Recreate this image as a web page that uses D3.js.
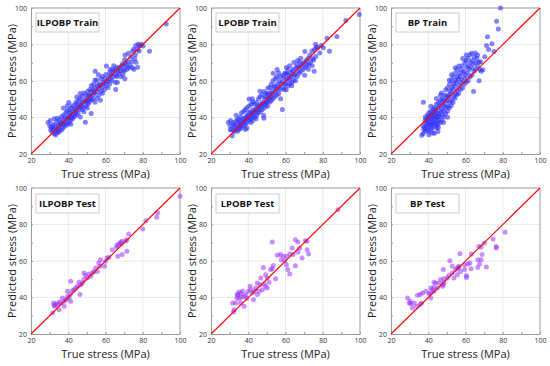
<!DOCTYPE html>
<html>
<head>
<meta charset="utf-8">
<script src="https://cdn.jsdelivr.net/npm/d3@7"></script>
<style>
  body { margin: 0; background: #fff; }
  svg { font-family: "Open Sans", sans-serif; }
</style>
</head>
<body>
<div id="chart"></div>
<script>
// panel titles
var titles = ["ILPOBP Train", "LPOBP Train", "BP Train", "ILPOBP Test", "LPOBP Test", "BP Test"];
var tickVals = [20, 30, 40, 50, 60, 70, 80, 90, 100];
var gridVals = [40, 60, 80];

// [true, predicted] pairs
var ilpobpTrain = [
  [29.2,37.3],[30.1,35.4],[30.6,33.1],[31.3,32.2],[31.0,34.6],[31.8,36.2],[32.4,31.1],[32.1,33.5],[32.7,35.3],[33.2,30.4],[33.6,32.2],[33.1,34.1],[33.8,37.4],[34.5,31.6],[34.2,33.3],[34.7,35.8],[35.3,32.5],[35.1,34.2],[35.6,36.4],[35.2,38.6],[36.4,33.2],[36.1,35.7],[36.6,37.2],[30.3,38.4],[32.5,39.3],[34.1,39.6],
  [37.2,34.3],[37.6,36.5],[37.1,38.2],[37.5,41.3],[38.3,35.4],[38.7,37.1],[38.2,39.5],[38.6,42.4],[39.4,36.2],[39.1,38.7],[39.7,40.3],[39.3,43.5],[40.5,37.3],[40.2,39.6],[40.8,41.2],[40.4,44.3],[41.3,38.5],[41.6,40.2],[41.1,42.6],[41.7,45.2],[42.3,39.3],[42.1,41.5],[42.6,43.1],[42.2,46.4],[37.4,45.2],[39.5,46.4],[40.3,48.2],[36.3,40.4],[41.4,36.3],
  [43.2,40.4],[43.7,42.3],[43.3,44.6],[43.8,47.2],[44.4,41.2],[44.1,43.6],[44.6,45.3],[44.3,48.5],[45.3,42.3],[45.7,44.4],[45.2,46.6],[45.6,49.2],[46.5,40.3],[46.2,45.5],[46.7,47.3],[46.3,50.4],[49.2,37.4],[47.5,44.2],[47.1,46.6],[47.7,48.3],[47.3,51.5],[48.4,43.2],[48.1,45.6],[48.6,49.2],[48.3,53.4],[49.5,46.3],[49.2,48.6],[49.7,50.2],[49.4,52.5],[50.3,45.2],[50.6,47.5],[50.2,49.3],[50.8,51.6],[50.4,54.2],[44.6,51.3],[46.4,53.2],
  [51.2,48.4],[51.7,50.2],[51.3,52.5],[51.6,55.3],[52.3,42.2],[52.5,49.4],[52.1,51.6],[52.7,54.2],[52.4,57.5],[53.3,50.3],[53.6,52.6],[53.2,55.4],[53.7,58.2],[54.4,48.3],[54.1,53.5],[54.6,56.2],[54.3,60.4],[55.5,50.6],[55.2,54.2],[55.7,57.4],[55.3,60.6],[56.4,52.2],[56.1,55.6],[56.6,58.3],[57.3,49.5],[57.6,54.2],[57.2,57.5],[57.7,61.2],[58.4,53.3],[58.1,56.5],[58.6,59.2],[58.3,62.5],[54.5,65.3],[56.2,63.4],
  [59.4,55.2],[59.1,58.5],[59.7,61.3],[60.3,57.4],[60.6,60.2],[60.2,63.5],[60.5,68.2],[61.4,56.3],[61.1,59.6],[61.7,62.2],[62.3,58.5],[62.6,61.2],[62.2,64.6],[63.4,60.3],[63.1,63.5],[63.7,66.2],[64.3,62.4],[64.6,65.3],[65.5,55.4],[65.2,59.3],[65.7,63.2],[65.3,66.5],[66.4,59.2],[66.1,62.5],[66.6,65.3],[66.3,67.6],[64.4,68.3],[62.5,66.4],
  [67.3,64.4],[67.6,67.2],[68.4,62.3],[68.1,65.6],[68.6,68.2],[69.3,63.4],[69.7,66.2],[69.2,69.5],[70.4,61.3],[70.1,65.4],[70.6,68.3],[70.3,71.6],[71.5,66.4],[71.2,69.3],[72.4,67.2],[72.1,70.5],[73.3,68.4],[73.6,73.2],[74.4,67.3],[74.1,70.6],[74.6,76.3],[75.3,66.4],[75.6,72.2],[75.2,77.5],[76.4,70.3],[76.1,74.4],[72.3,75.2],[70.5,74.3],
  [76.3,79.4],[77.2,77.3],[77.6,80.2],[78.4,79.3],[78.1,76.4],[79.3,80.1],[80.2,79.2],[77.3,67.5],[83.6,76.3],[92.6,91.3]
];
var lpobpTrain = [
  [29.3,37.2],[30.2,35.5],[30.5,38.3],[31.4,29.8],[31.1,33.4],[31.7,36.3],[32.3,32.2],[32.6,34.6],[32.2,37.3],[33.4,33.2],[33.1,35.4],[33.7,38.5],[34.3,32.4],[34.6,34.2],[34.1,36.6],[34.5,39.2],[35.3,33.5],[35.6,35.2],[35.2,37.4],[35.7,40.3],[36.4,34.3],[36.1,36.6],[36.6,38.2],[36.3,42.4],[30.4,33.3],[33.5,41.2],
  [37.3,35.4],[37.6,37.2],[37.2,39.5],[37.5,43.3],[38.4,36.2],[38.1,38.4],[38.7,40.3],[38.3,44.2],[39.4,37.3],[39.1,39.6],[39.6,41.2],[39.2,45.4],[40.3,38.5],[40.6,40.2],[40.2,42.6],[40.5,46.3],[40.4,50.2],[41.5,37.3],[41.2,39.4],[41.7,41.6],[41.3,43.2],[41.6,47.4],[42.3,38.4],[42.6,40.3],[42.1,42.5],[42.7,44.2],[42.4,48.5],[42.2,50.3],[38.5,33.4],[39.3,34.2],
  [43.4,40.2],[43.1,42.5],[43.7,44.3],[43.3,47.4],[44.5,41.3],[44.2,43.4],[44.7,45.6],[44.4,48.2],[45.3,42.5],[45.6,44.2],[45.2,46.4],[45.5,50.3],[46.4,43.2],[46.1,45.5],[46.7,47.3],[46.3,51.4],[48.4,39.6],[47.4,44.3],[47.1,46.5],[47.6,48.2],[47.3,52.4],[48.2,41.3],[48.6,45.2],[48.3,47.5],[48.7,50.3],[48.4,54.2],[49.3,46.6],[49.6,48.2],[49.2,51.4],[49.7,53.3],[50.4,46.2],[50.1,48.5],[50.6,50.3],[50.3,52.6],[50.5,56.2],[46.3,54.4],[44.2,39.3],
  [51.3,48.3],[51.6,50.5],[51.2,53.2],[51.7,56.4],[52.4,49.2],[52.1,51.5],[52.6,54.3],[52.3,58.2],[53.4,50.4],[53.1,53.2],[53.7,56.5],[53.3,60.2],[54.3,51.5],[54.6,54.3],[54.2,57.2],[54.5,61.4],[55.4,52.3],[55.1,55.6],[55.7,58.2],[55.3,62.3],[56.4,53.2],[56.2,56.5],[56.6,60.2],[56.3,64.4],[57.4,50.3],[57.1,55.4],[57.6,58.3],[57.3,62.5],[58.3,44.4],[58.6,56.2],[58.2,59.4],[58.7,63.2],[55.5,66.3],[53.4,64.2],
  [59.3,55.4],[59.6,58.2],[59.2,61.5],[59.7,64.3],[60.4,55.2],[60.1,58.6],[60.6,61.3],[60.3,64.2],[60.5,67.4],[61.3,57.2],[61.6,60.4],[61.2,63.5],[62.4,58.3],[62.1,61.6],[62.7,64.2],[62.3,68.3],[63.4,59.2],[63.1,62.5],[63.6,65.3],[64.3,60.4],[64.6,63.2],[64.2,66.5],[64.5,70.2],[65.4,60.2],[65.1,63.6],[65.7,67.3],[66.3,62.4],[66.6,65.2],[66.2,68.5],[66.5,71.3],[63.3,57.4],[61.4,66.3],
  [67.4,64.2],[67.1,67.5],[67.6,70.3],[68.3,65.4],[68.6,68.2],[68.2,72.4],[69.4,66.3],[69.1,69.5],[70.3,63.2],[70.6,67.4],[70.2,70.2],[71.4,68.5],[71.1,71.3],[72.3,66.4],[72.6,69.2],[72.2,72.5],[73.4,70.3],[73.1,74.2],[74.3,68.4],[74.6,72.2],[74.2,76.4],[75.4,65.3],[75.1,71.5],[75.6,77.2],[76.3,73.4],[76.5,78.3],[70.4,76.2],
  [76.2,80.2],[77.3,78.4],[78.4,75.3],[79.2,79.4],[80.3,78.2],[82.3,83.4],[83.6,76.3],[87.6,84.4],[92.4,93.2],[99.6,96.4]
];
var bpTrain = [
  [37.3,31.2],[37.6,33.5],[37.2,35.3],[38.4,32.4],[38.1,34.2],[38.6,36.6],[38.3,38.3],[39.4,33.2],[39.1,35.5],[39.7,37.2],[39.3,39.4],[39.6,41.3],[40.4,32.3],[40.1,34.6],[40.6,36.2],[40.2,38.5],[40.7,40.3],[40.3,42.4],[41.5,33.3],[41.2,35.6],[41.7,37.3],[41.3,39.5],[41.6,41.2],[41.2,43.4],[42.4,31.5],[42.1,34.3],[42.6,36.4],[42.2,38.2],[42.7,40.5],[42.3,42.3],[42.6,44.4],[37.4,48.3],[36.5,30.3],[40.4,30.5],[43.3,31.4],[45.2,32.3],[38.4,40.3],[41.4,46.2],
  [43.3,35.4],[43.6,37.2],[43.2,39.5],[43.7,41.3],[43.4,43.2],[43.1,45.5],[44.5,34.3],[44.2,36.5],[44.6,38.3],[44.3,40.2],[44.7,42.5],[44.1,44.3],[44.4,47.3],[45.3,36.2],[45.6,38.5],[45.2,40.4],[45.7,42.2],[45.3,45.4],[45.5,48.2],[46.4,37.3],[46.1,40.5],[46.6,43.2],[46.2,46.4],[46.5,49.3],[47.3,38.4],[47.6,41.2],[47.2,44.5],[47.7,47.3],[47.4,50.2],[47.1,53.4],[48.4,40.3],[48.1,43.5],[48.6,46.2],[48.3,49.4],[48.7,52.3],[49.3,42.2],[49.6,45.5],[49.2,48.3],[49.7,51.4],[49.4,55.2],[44.3,50.4],[46.5,52.2],[45.4,34.5],[48.2,37.3],
  [50.3,43.4],[50.6,46.2],[50.2,49.5],[50.7,52.2],[50.4,56.3],[51.3,45.2],[51.6,48.5],[51.2,51.3],[51.7,54.4],[51.4,58.2],[52.3,46.5],[52.6,49.3],[52.2,53.2],[52.7,56.5],[52.4,60.3],[53.3,48.2],[53.6,51.4],[53.2,55.3],[53.7,58.5],[53.4,62.2],[54.3,50.5],[54.6,53.2],[54.2,57.4],[54.7,60.3],[54.4,64.2],[55.3,52.4],[55.6,55.2],[55.2,59.5],[55.7,62.3],[55.4,66.4],[56.3,53.2],[56.6,57.5],[56.2,61.3],[56.7,64.4],[56.4,68.2],[52.5,63.4],[54.5,67.3],[51.3,60.4],[50.4,40.2],
  [57.3,55.4],[57.6,59.2],[57.2,62.5],[57.7,66.3],[58.4,56.2],[58.1,60.5],[58.6,64.3],[58.2,68.4],[59.3,58.2],[59.6,61.5],[59.2,65.3],[59.7,70.2],[60.4,59.4],[60.1,63.2],[60.6,67.5],[60.3,71.3],[61.4,60.2],[61.1,64.5],[61.6,68.3],[61.3,72.4],[62.4,62.3],[62.1,66.5],[62.6,70.2],[62.3,74.4],[63.4,63.2],[63.1,67.4],[63.6,71.3],[63.3,75.2],[58.5,72.3],[60.4,74.3],
  [64.3,54.2],[64.6,65.4],[64.2,69.3],[64.7,73.2],[65.3,66.5],[65.6,70.3],[65.2,75.4],[66.4,68.2],[66.1,72.5],[67.3,60.2],[67.6,66.4],[67.2,70.3],[68.4,65.3],[68.1,70.5],[66.5,74.3],
  [69.3,66.2],[70.4,73.3],[71.3,79.4],[72.4,77.3],[71.8,84.3],[74.2,80.4],[75.3,76.2],[76.7,92.8],[77.6,88.5],[78.8,100]
];
var ilpobpTest = [
  [100,95.5],[88,86.5],[87.5,84],[81.7,82],[80,77.5],[72.4,74.8],[71.5,71.7],[70.7,71],[68.9,70.8],[68,70.2],[67.1,69.3],[66.2,68.6],[68.4,69.5],[71.5,65.3],[68.9,63.5],[66.6,62.6],[63.6,66.2],[65.9,67.5],
  [60.9,61.7],[61.8,62],[60,59.8],[59.5,57.1],[57.3,60.7],[56.4,58.9],[57,57.1],[54.7,56.2],[53.8,54.3],[52.9,53.4],[52,51.6],[51.1,52.9],[50.2,50.7],[49.3,52.1],[48.4,49.8],[47.6,47.9],[46.7,47],[45.8,48.3],
  [44.9,46.1],[44,45.2],[43.1,44.3],[42.2,43.7],[46.3,41.6],[41.3,48.9],[41,41.6],[40.4,39.7],[39.6,40.6],[38.7,38.8],[37.8,37.9],[36.9,39.7],[36,37],[35.1,37.5],[34.2,36.1],[33.3,36.4],[32.4,35.7],[32.1,37],
  [32.8,35.2],[35.1,33.3],[41.3,37.9],[37.8,35.2],[31.6,31.5],[39.6,43.4],[55.6,54.3],[48.4,53.4]
];
var lpobpTest = [
  [88.1,88.1],[52.9,70.4],[65.3,71.7],[66.6,70.4],[70.7,71.3],[71.6,70.8],[63.6,67.1],[71.6,66.2],[72.4,63.8],[68.9,61.6],[65.3,57.4],[62.3,52.9],[61.2,55.3],[60.5,58],[59.5,60.2],[58.8,62.6],[57.3,63.5],
  [55.6,63.1],[57.7,60.7],[60.5,62.6],[62.3,63.8],[64.1,63.5],[66.6,64.9],[67.6,67.1],[54.7,50.3],[52.9,55.8],[53.4,57.6],[52,55.3],[48.1,56.5],[49.3,52.5],[50.2,50.7],[51.1,48.3],[49.3,46.1],[48.4,47.4],
  [50.2,45.2],[47.6,44.3],[46.7,50.7],[46.3,47],[44.9,47.9],[44,45.2],[43.1,43.4],[42.2,42.5],[41.3,44.3],[41,46.1],[39.9,43.4],[38.7,41.6],[37.8,40.6],[36.9,43.4],[36,41.9],[35.1,43],[34.2,41.9],[33.9,39.7],
  [35.1,39.4],[36,37],[33.3,37],[31.6,37],[32.4,33.3],[32.1,32.1],[37.8,35.2],[42.8,38.8],[44.9,41.6],[45.8,43.4],[39.2,39.4],[34.2,41.2],[36.4,40.1]
];
var bpTest = [
  [81.3,75.7],[74.8,72.1],[76.5,68],[76.5,67.1],[70.1,69.9],[67.1,68],[68.4,67.7],[68.9,63.5],[68.4,60.7],[66.6,60.7],[71.2,56.7],[66.6,56.5],[63,55.8],[60.5,51],[60.5,52.1],[59.5,55.3],[62.3,58.9],
  [63.2,63.8],[61.2,58.4],[59.5,58],[57,64],[56.4,56.5],[55.6,52.5],[54.7,55.3],[55.6,56.2],[56.4,57.1],[52.9,53.4],[51.6,60.2],[51.1,52.1],[50.2,50.7],[48.4,50.3],[48.1,55.3],[48.1,47],[47.6,46.1],
  [46.7,49.8],[45.8,47.9],[44.9,45.2],[44,47.9],[43.1,45.6],[42.2,44.3],[41.3,45.2],[41,42.5],[40.4,41.9],[41.3,39.7],[43.1,48.3],[38.7,43.4],[36.9,42.5],[35.6,41.6],[34.2,41.2],[36.4,37],[35.6,36.1],
  [33.9,35.2],[31.6,34.2],[32.4,37],[30.7,36.4],[29.8,37],[28.9,39.7],[30.3,37.9],[43.1,43.4],[48.4,47.9],[53.8,50.7],[57.3,54.3],[52.9,57.1],[67.6,58.4]
];

var series = [ilpobpTrain, lpobpTrain, bpTrain, ilpobpTest, lpobpTest, bpTest];

var W = 550, H = 366;
var colLeft = [31, 211, 391];
var rowTop = [8, 188];
var pw = 149, ph = 146;

var svg = d3.select("#chart").append("svg")
    .attr("width", W)
    .attr("height", H);

series.forEach(function(data, i) {
    var col = i % 3, row = Math.floor(i / 3);
    var test = row == 1;

    var g = svg.append("g")
        .attr("transform", "translate(" + colLeft[col] + "," + rowTop[row] + ")");

    var x = d3.scaleLinear().domain([20, 100]).range([0, pw]);
    var y = d3.scaleLinear().domain([20, 100]).range([ph, 0]);

    // grid
    g.selectAll(".gx").data(gridVals).enter().append("line")
        .attr("x1", function(d) { return x(d); })
        .attr("x2", function(d) { return x(d); })
        .attr("y1", 0).attr("y2", ph)
        .attr("stroke", "#e4e4e4").attr("stroke-width", 0.8);
    g.selectAll(".gy").data(gridVals).enter().append("line")
        .attr("y1", function(d) { return y(d); })
        .attr("y2", function(d) { return y(d); })
        .attr("x1", 0).attr("x2", pw)
        .attr("stroke", "#e4e4e4").attr("stroke-width", 0.8);

    var fmt = function(d) { return d % 20 == 0 ? d : ""; };

    var xa = g.append("g")
        .attr("transform", "translate(0," + ph + ")")
        .call(d3.axisBottom(x).tickValues(tickVals).tickFormat(fmt).tickSizeInner(-2).tickSizeOuter(0).tickPadding(4));
    var ya = g.append("g")
        .call(d3.axisLeft(y).tickValues(tickVals).tickFormat(fmt).tickSizeInner(-2).tickSizeOuter(0).tickPadding(4));

    [xa, ya].forEach(function(a) {
        a.select(".domain").attr("stroke", "#9a9a9a");
        a.selectAll(".tick line").attr("stroke", "#9a9a9a");
        a.selectAll("text").attr("fill", "#333").attr("font-size", "7px")
            .attr("font-family", "'Open Sans', sans-serif");
    });

    // frame on the top and right
    g.append("line").attr("x1", 0).attr("x2", pw).attr("y1", 0).attr("y2", 0).attr("stroke", "#9a9a9a");
    g.append("line").attr("x1", pw).attr("x2", pw).attr("y1", 0).attr("y2", ph).attr("stroke", "#9a9a9a");

    // points
    g.selectAll("circle").data(data).enter().append("circle")
        .attr("cx", function(d) { return x(d[0]); })
        .attr("cy", function(d) { return y(d[1]); })
        .attr("r", 2.5)
        .attr("fill", test ? "#9933ff" : "#2f2fff")
        .attr("fill-opacity", test ? 0.55 : 0.6);

    // y = x line
    g.append("line")
        .attr("x1", x(20)).attr("y1", y(20))
        .attr("x2", x(100)).attr("y2", y(100))
        .attr("stroke", "#ff0000").attr("stroke-width", 1.1);

    // label box
    var by = test ? 6 : 5;
    g.append("rect")
        .attr("x", 5).attr("y", by)
        .attr("width", 63).attr("height", 19)
        .attr("fill", "#fff").attr("stroke", "#bdbdbd").attr("stroke-width", 0.8);
    g.append("text")
        .attr("x", 5 + 31.5).attr("y", by + 13)
        .attr("text-anchor", "middle")
        .attr("font-size", "9.5px").attr("font-weight", "bold")
        .attr("fill", "#111")
        .text(titles[i]);

    // axis titles
    g.append("text")
        .attr("x", pw / 2).attr("y", ph + 23.5)
        .attr("text-anchor", "middle")
        .attr("font-size", "11px").attr("fill", "#222")
        .text("True stress (MPa)");
    g.append("text")
        .attr("transform", "translate(-15," + (ph / 2) + ") rotate(-90)")
        .attr("text-anchor", "middle")
        .attr("font-size", "11px").attr("fill", "#222")
        .text("Predicted stress (MPa)");
});
</script>
</body>
</html>
